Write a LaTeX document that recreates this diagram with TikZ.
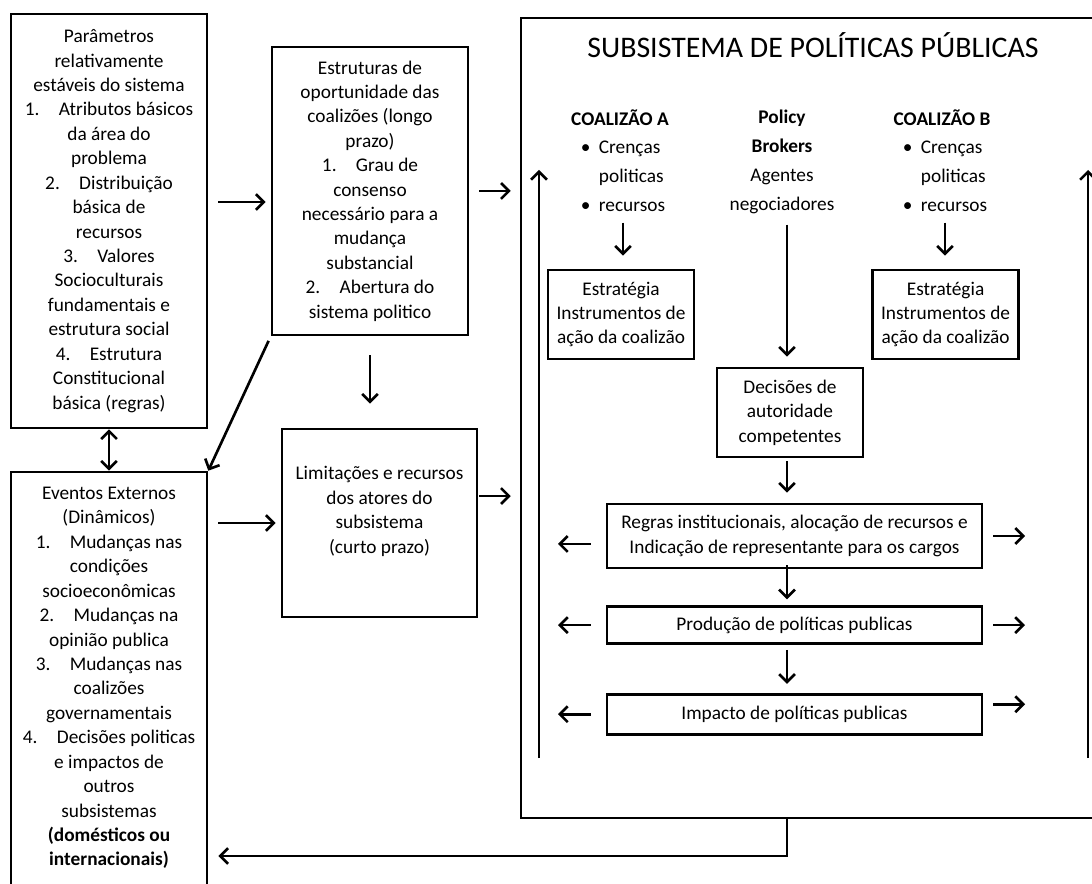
\documentclass[tikz,border=0pt]{standalone}
\usepackage{fontspec}
\setmainfont{Carlito}
\usetikzlibrary{positioning,arrows.meta}

\newcommand{\bul}{\makebox[0.36cm][l]{•}}

\begin{document}
\begin{tikzpicture}[
            x=0.02cm, y=-0.02cm,
            >={Straight Barb[length=4.5pt,width=9pt]},
            box/.style={rectangle, draw, line width=1.5pt, align=center, inner sep=2pt, font=\fontsize{11}{13.9}\selectfont},
            wide/.style={box, minimum width=3.92cm},
            inner/.style={box, minimum width=2.92cm, minimum height=1.78cm},
            stage/.style={box, minimum width=7.5cm},
            txt/.style={align=center, font=\fontsize{11}{13.9}\selectfont},
            actor/.style={align=center, font=\fontsize{11}{16.5}\selectfont},
            arrow/.style={->, line width=1.5pt}
            ]
            \useasboundingbox (0,0) rectangle (1092,884);
            
            % Outer boxes
            \node[wide, minimum height=8.28cm] (params) at (109,221) {Parâmetros\\ relativamente\\ estáveis do sistema\\ 1.\quad Atributos básicos\\ da área do\\ problema\\ 2.\quad Distribuição\\ básica de\\ recursos\\ 3.\quad Valores\\ Socioculturais\\ fundamentais e\\ estrutura social\\ 4.\quad Estrutura\\ Constitucional\\ básica (regras)};
            \node[wide, minimum height=5.76cm] (structures) at (370,191) {Estruturas de\\ oportunidade das\\ coalizões (longo\\ prazo)\\ 1.\quad Grau de\\ consenso\\ necessário para a\\ mudança\\ substancial\\ 2.\quad Abertura do\\ sistema politico};
            \node[box, minimum width=3.9cm, minimum height=3.76cm] (limits) at (379.5,523) {};
            \node[txt] (limitstext) at (379.5,511.5) {Limitações e recursos\\ dos atores do\\ subsistema\\ (curto prazo)};
            \node[wide, minimum height=8.56cm] (events) at (109,686) {};
            \node[txt] (eventstext) at (109,678) {Eventos Externos\\ (Dinâmicos)\\ 1.\quad Mudanças nas\\ condições\\ socioeconômicas\\ 2.\quad Mudanças na\\ opinião publica\\ 3.\quad Mudanças nas\\ coalizões\\ governamentais\\ 4.\quad Decisões politicas\\ e impactos de\\ outros\\ subsistemas\\ \textbf{(domésticos ou}\\ \textbf{internacionais)}};
            
            % Subsystem
            \node[box, minimum width=11.58cm, minimum height=16cm] (subsys) at (810.5,418) {};
            \node[font=\fontsize{17}{20}\selectfont] (title) at (813,45) {SUBSISTEMA DE POLÍTICAS PÚBLICAS};
            \node[actor, font=\fontsize{11}{16.5}\selectfont\bfseries] (coalA) at (620,118) {COALIZÃO A};
            \node[actor, align=left] (beliefA) at (623,176) {\bul Crenças\\ \phantom{\bul}politicas\\ \bul recursos};
            \node[actor] (brokers) at (782,161.5) {\textbf{Policy}\\ \textbf{Brokers}\\ Agentes\\ negociadores};
            \node[actor, font=\fontsize{11}{16.5}\selectfont\bfseries] (coalB) at (942,118) {COALIZÃO B};
            \node[actor, align=left] (beliefB) at (945,176) {\bul Crenças\\ \phantom{\bul}politicas\\ \bul recursos};
            \node[inner] (stratA) at (621,314.5) {Estratégia\\ Instrumentos de\\ ação da coalizão};
            \node[inner, right=3.52cm of stratA] (stratB) {Estratégia\\ Instrumentos de\\ ação da coalizão};
            \node[inner] (decisions) at (790,412.5) {Decisões de\\ autoridade\\ competentes};
            \node[stage, minimum height=1.28cm] (rules) at (794.5,536) {Regras institucionais, alocação de recursos e\\ Indicação de representante para os cargos};
            \node[stage, minimum height=0.74cm, below=0.72cm of rules] (output) {Produção de políticas publicas};
            \node[stage, minimum height=0.8cm, below=0.96cm of output] (impact) {Impacto de políticas publicas};
            
            % Free ends
            \coordinate (leftbot) at (539,758);
            \coordinate (lefttop) at (539,170);
            \coordinate (rightbot) at (1088,758);
            \coordinate (righttop) at (1088,170);
            \coordinate (feedback) at (787,856);
            
            % Arrows
            \draw[arrow, shorten <=0.2cm, shorten >=0.1cm] ([yshift=-0.22cm]structures.west -| params.east) -- ([yshift=-0.22cm]structures.west);
            \draw[arrow, shorten <=0.2cm, shorten >=0.1cm] (events.east |- limits) -- (limits.west);
            \draw[arrow, shorten <=0.2cm, shorten >=0.18cm] (structures.east) -- (structures.east -| subsys.west);
            \draw[arrow, shorten <=0.02cm, shorten >=0.18cm] ([yshift=0.54cm]limits.east) -- ([yshift=0.54cm]limits.east -| subsys.west);
            \draw[arrow, shorten <=0.38cm, shorten >=0.48cm] (structures.south) -- (structures.south |- limits.north);
            \draw[arrow, shorten <=0.1cm] (structures.south west) -- (events.north east);
            \draw[<->, line width=1.5pt] (params.south) -- (events.north);
            
            \draw[arrow, shorten <=0.1cm, shorten >=0.26cm] (beliefA.south) -- (beliefA.south |- stratA.north);
            \draw[arrow, shorten <=0.1cm, shorten >=0.26cm] (beliefB.south) -- (beliefB.south |- stratB.north);
            \draw[arrow, shorten <=0.1cm, shorten >=0.2cm] (brokers.south -| 787,0) -- (decisions.north -| 787,0);
            \draw[arrow, shorten <=0.06cm, shorten >=0.2cm] (decisions.south -| 787,0) -- (rules.north -| 787,0);
            \draw[arrow, shorten <=-0.08cm, shorten >=0.12cm] (rules.south -| 787,0) -- (output.north -| 787,0);
            \draw[arrow, shorten <=0.1cm, shorten >=0.18cm] (output.south -| 787,0) -- (impact.north -| 787,0);
            
            \draw[arrow] (leftbot) -- (lefttop);
            \draw[arrow] (rightbot) -- (righttop);
            \draw[arrow, shorten <=0.3cm, shorten >=0.38cm] ([yshift=-0.16cm]rules.west) -- ([yshift=-0.16cm]rules.west -| leftbot);
            \draw[arrow, shorten <=0.3cm, shorten >=0.38cm] (output.west) -- (output.west -| leftbot);
            \draw[arrow, shorten <=0.3cm, shorten >=0.38cm] (impact.west) -- (impact.west -| leftbot);
            \draw[arrow, shorten <=0.2cm, shorten >=1.26cm] (rules.east) -- (rules.east -| rightbot);
            \draw[arrow, shorten <=0.2cm, shorten >=1.26cm] (output.east) -- (output.east -| rightbot);
            \draw[arrow, shorten <=0.2cm, shorten >=1.26cm] ([yshift=0.2cm]impact.east) -- ([yshift=0.2cm]impact.east -| rightbot);
            
            \draw[arrow, shorten >=0.2cm] (subsys.south -| feedback) -- (feedback) -- (feedback -| events.east);
            
        \end{tikzpicture}
\end{document}
